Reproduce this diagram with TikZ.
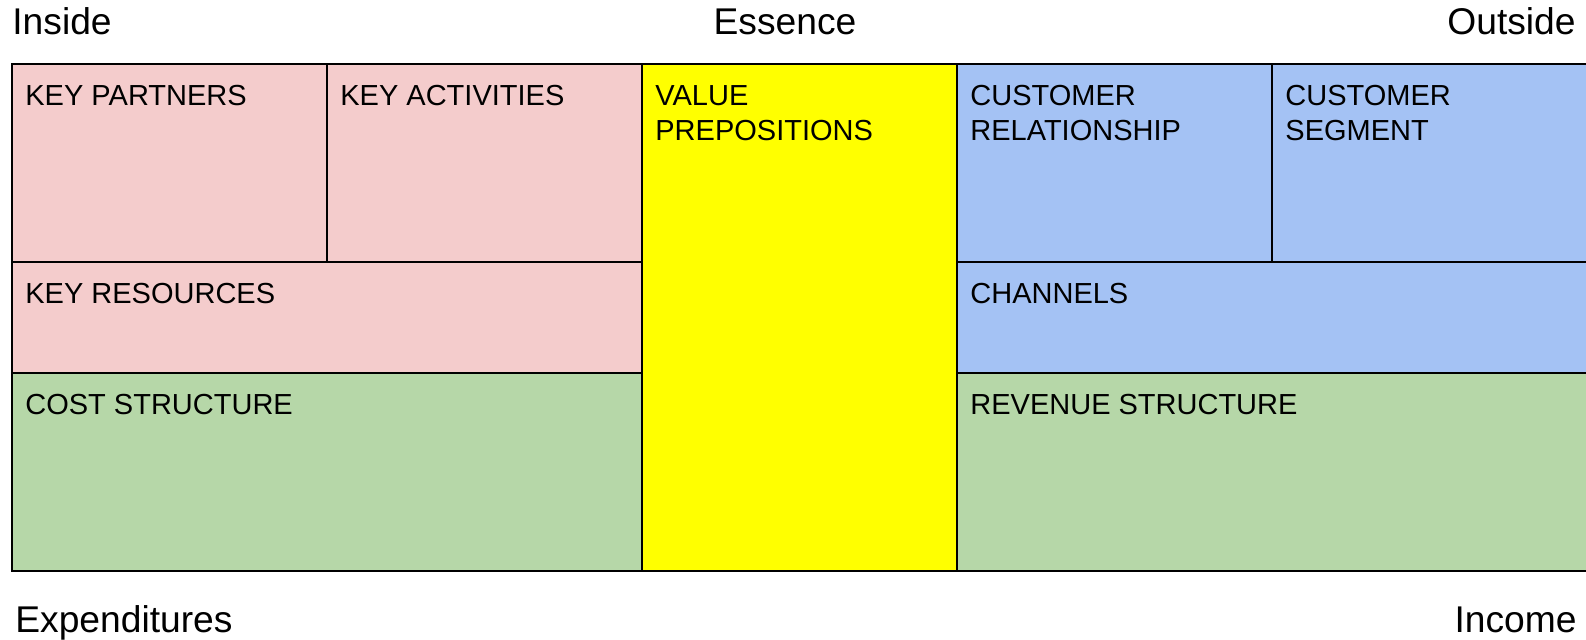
\documentclass[tikz,border=0pt]{standalone}
\usepackage{fontspec}
\setmainfont{Liberation Sans}
\definecolor{partnerpink}{HTML}{F4CCCC}
\definecolor{custblue}{HTML}{A4C2F4}
\definecolor{moneygreen}{HTML}{B6D7A8}
\definecolor{valueyellow}{HTML}{FFFF00}
\begin{document}
\begin{tikzpicture}[x=0.5pt, y=-0.5pt,
    cell/.style={draw=black, line width=1pt},
    celltext/.style={font=\fontsize{14.5}{17.4}\selectfont, anchor=north west, align=left, inner sep=0pt},
    side/.style={font=\fontsize{18.6}{22}\selectfont, inner sep=0pt}]
    \useasboundingbox (0,0) rectangle (1586,639);

    % the canvas
    \filldraw[cell, fill=partnerpink] (12,64) rectangle (327,262);
    \filldraw[cell, fill=partnerpink] (327,64) rectangle (642,262);
    \filldraw[cell, fill=partnerpink] (12,262) rectangle (642,373);
    \filldraw[cell, fill=moneygreen] (12,373) rectangle (642,571);
    \filldraw[cell, fill=valueyellow] (642,64) rectangle (957,571);
    \filldraw[cell, fill=custblue] (957,64) rectangle (1272,262);
    \filldraw[cell, fill=custblue] (1272,64) rectangle (1587,262);
    \filldraw[cell, fill=custblue] (957,262) rectangle (1587,373);
    \filldraw[cell, fill=moneygreen] (957,373) rectangle (1587,571);

    \node[celltext] (kp) at (25,85) {KEY PARTNERS};
    \node[celltext] (ka) at (340,85) {KEY ACTIVITIES};
    \node[celltext] (kr) at (25,283) {KEY RESOURCES};
    \node[celltext] (cs) at (25,394) {COST STRUCTURE};
    \node[celltext] (vp) at (655,85) {VALUE\\PREPOSITIONS};
    \node[celltext] (cr) at (970,85) {CUSTOMER\\RELATIONSHIP};
    \node[celltext] (cseg) at (1285,85) {CUSTOMER\\SEGMENT};
    \node[celltext] (ch) at (970,283) {CHANNELS};
    \node[celltext] (rs) at (970,394) {REVENUE STRUCTURE};

    % around the canvas
    \node[side, anchor=base west] (inside) at (12,34) {Inside};
    \node[side, anchor=base] (essence) at (785,34) {Essence};
    \node[side, anchor=base east] (outside) at (1576,34) {Outside};
    \node[side, anchor=base west] (expend) at (15,632) {Expenditures};
    \node[side, anchor=base east] (income) at (1577,632) {Income};
\end{tikzpicture}
\end{document}
